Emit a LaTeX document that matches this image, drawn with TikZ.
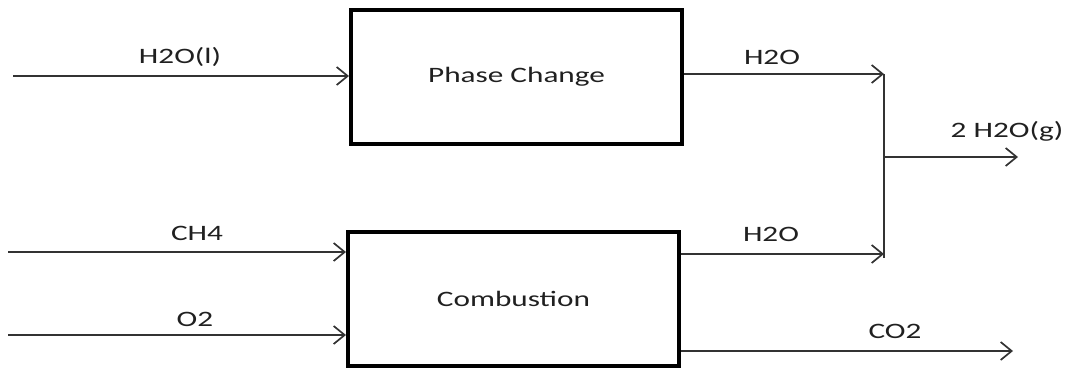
\documentclass[tikz,border=0pt]{standalone}
\usepackage{fontspec}
\setmainfont{Carlito}
\usetikzlibrary{arrows.meta}
\definecolor{linegray}{HTML}{333333}
\definecolor{textgray}{HTML}{202020}
\tikzset{
  procbox/.style={draw=black, line width=4pt, minimum width=331pt, minimum height=134pt, inner sep=0pt,
    font=\fontsize{22}{25}\selectfont, text=textgray},
  flow/.style={draw=linegray, line width=1.7pt, -{Straight Barb[length=11pt,width=18pt,line width=1.7pt]}},
  joinline/.style={draw=linegray, line width=1.7pt},
  lbl/.style={font=\fontsize{22}{25}\selectfont, text=textgray, inner sep=0pt}
}
\newcommand{\wide}[1]{\scalebox{1.42}[1]{#1}}
\begin{document}
\begin{tikzpicture}[x=1pt,y=-1pt]
\useasboundingbox (0,0) rectangle (1071,375);
% process boxes
\node[procbox] (pc) at (516.5,77) {\wide{Phase Change}};
\node[procbox] (cb) at (513.5,299) {\wide{Combustion}};
% free ends
\coordinate (inH) at (13,76);
\coordinate (inC) at (8,252);
\coordinate (inO) at (8,335);
\coordinate (jt) at (884,74);
\coordinate (jb) at (884,258);
\coordinate (jm) at (884,157);
\coordinate (outW) at (1018,157);
\coordinate (outC) at (1013,351);
% inputs
\draw[flow] (inH) -- (inH -| pc.west);
\draw[flow] (inC) -- (inC -| cb.west);
\draw[flow] (inO) -- (inO -| cb.west);
% outputs
\draw[flow] (jt -| pc.east) -- (jt);
\draw[flow] (cb.east |- 0,254) -- (884,254);
\draw[joinline] (jt) -- (jb);
\draw[flow] (jm) -- (outW);
\draw[flow] (cb.east |- outC) -- (outC);
% labels
\node[lbl] (lH) at (180,57) {\wide{H2O(l)}};
\node[lbl] (lC) at (197,233) {\wide{CH4}};
\node[lbl] (lO) at (195,319) {\wide{O2}};
\node[lbl] (lHt) at (772,57) {\wide{H2O}};
\node[lbl] (lHb) at (771,234) {\wide{H2O}};
\node[lbl] (lW) at (1007,131) {\wide{2 H2O(g)}};
\node[lbl] (lCO) at (895,331) {\wide{CO2}};
\end{tikzpicture}
\end{document}
